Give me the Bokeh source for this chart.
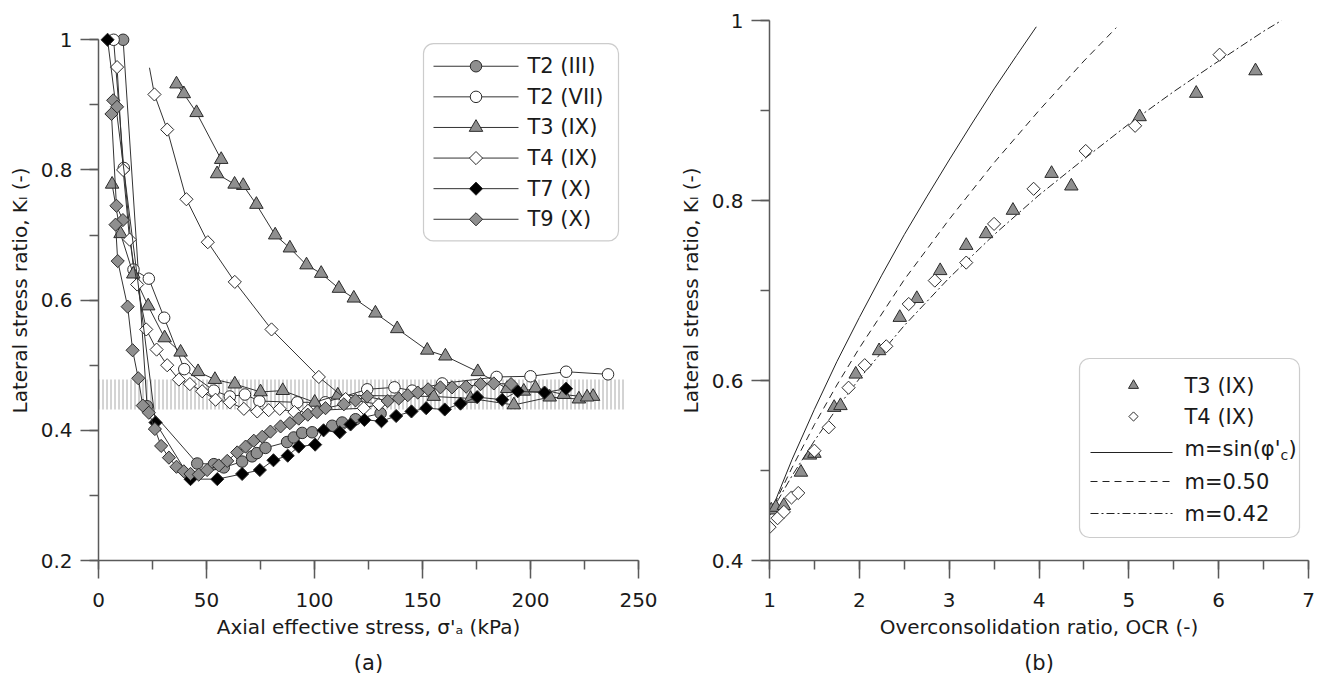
import numpy as np
from bokeh.plotting import figure
from bokeh.layouts import row
from bokeh.models import Range1d, SingleIntervalTicker, CustomJSTickFormatter, BoxAnnotation, Title
from bokeh.core.properties import value
from bokeh.embed import file_html
from bokeh.resources import INLINE

# ---------------- data: panel (a) ----------------
T2III_x = [11.4, 22.5, 45.7, 53.4, 58.0, 66.5, 71.1, 73.3, 77.3, 87.3, 90.4, 94.3, 98.9, 108.2, 112.8, 119.0, 130.6]
T2III_k = [1.000, 0.437, 0.349, 0.348, 0.343, 0.352, 0.360, 0.365, 0.373, 0.382, 0.389, 0.396, 0.397, 0.407, 0.412, 0.417, 0.426]

T2VII_x = [7.0, 11.7, 16.2, 23.3, 30.4, 39.7, 53.4, 60.8, 67.8, 74.5, 92.0, 105.0, 124.4, 137.0, 145.2, 159.1, 184.3, 200.0, 216.5, 235.9]
T2VII_k = [1.000, 0.803, 0.647, 0.633, 0.573, 0.494, 0.461, 0.452, 0.455, 0.445, 0.443, 0.443, 0.463, 0.466, 0.461, 0.472, 0.482, 0.483, 0.490, 0.486]

T3_x = [6.3, 10.2, 16.1, 23.0, 30.6, 38.0, 46.1, 53.9, 63.1, 75.0, 85.3, 100.1, 110.8, 155.2, 172.2, 192.3, 208.9, 222.4, 229.0,
        226.2, 215.4, 202.3, 196.9, 189.2, 175.6, 160.6, 152.2, 138.3, 128.2, 118.2, 111.3, 103.1, 96.3, 88.6, 81.8, 73.1, 67.0,
        63.0, 54.9, 56.8, 45.4, 39.5, 36.1]
T3_k = [0.778, 0.702, 0.640, 0.591, 0.542, 0.520, 0.490, 0.478, 0.471, 0.459, 0.461, 0.443, 0.454, 0.452, 0.449, 0.439, 0.451, 0.448, 0.452,
        0.451, 0.455, 0.465, 0.460, 0.464, 0.490, 0.514, 0.523, 0.556, 0.580, 0.603, 0.618, 0.641, 0.654, 0.680, 0.700, 0.747, 0.776,
        0.778, 0.794, 0.816, 0.888, 0.917, 0.932]

# last point of T4 is drawn as line end without a marker
T4_x = [8.6, 11.4, 14.4, 17.9, 22.1, 26.9, 31.8, 37.2, 42.3, 48.0, 54.2, 60.8, 67.3, 73.5, 78.8, 83.9, 90.7, 97.0, 122.8, 129.8,
        114.4, 102.0, 80.1, 63.1, 50.6, 40.7, 31.8, 25.9, 23.6]
T4_k = [0.958, 0.800, 0.693, 0.624, 0.555, 0.524, 0.500, 0.478, 0.471, 0.460, 0.447, 0.443, 0.433, 0.429, 0.431, 0.433, 0.428, 0.430, 0.434, 0.440,
        0.448, 0.482, 0.555, 0.628, 0.689, 0.755, 0.862, 0.916, 0.957]

T7_x = [4.2, 26.4, 42.6, 55.0, 66.5, 74.7, 81.0, 87.6, 92.7, 100.3, 104.2, 111.7, 116.7, 123.1, 131.0, 137.8, 144.9, 151.7, 160.3,
        167.6, 175.3, 186.9, 194.1, 206.5, 216.5]
T7_k = [1.000, 0.412, 0.325, 0.325, 0.333, 0.339, 0.354, 0.361, 0.375, 0.378, 0.400, 0.397, 0.409, 0.416, 0.414, 0.422, 0.429, 0.434, 0.432,
        0.441, 0.451, 0.447, 0.460, 0.458, 0.464]

T9_x = [6.8, 8.6, 6.0, 8.3, 11.3, 7.9, 8.9, 13.5, 15.8, 18.4, 20.5, 23.3, 26.1, 29.0, 32.6, 36.1, 39.5, 42.6, 46.4, 50.3, 55.7, 59.6,
        64.2, 68.1, 71.9, 75.8, 79.6, 84.3, 88.6, 92.7, 96.9, 101.2, 105.1, 113.6, 119.0, 124.4, 133.9, 139.0, 143.2, 147.8, 152.6,
        158.3, 163.7, 170.2, 176.9, 183.0, 191.0]
T9_k = [0.907, 0.897, 0.886, 0.745, 0.723, 0.716, 0.660, 0.590, 0.523, 0.480, 0.438, 0.427, 0.402, 0.376, 0.358, 0.344, 0.337, 0.333,
        0.332, 0.339, 0.346, 0.353, 0.366, 0.375, 0.384, 0.390, 0.398, 0.406, 0.411, 0.418, 0.424, 0.428, 0.434, 0.440, 0.446, 0.452,
        0.445, 0.449, 0.454, 0.458, 0.463, 0.466, 0.466, 0.467, 0.471, 0.472, 0.471]

band_x = [0.0, 243.5]
band_k = [0.432, 0.478]

# ---------------- data: panel (b) ----------------
T3_ocr = [1.02, 1.07, 1.16, 1.35, 1.45, 1.50, 1.72, 1.79, 1.96, 2.22, 2.45, 2.64, 2.90, 3.19, 3.41, 3.71, 4.14, 4.36, 5.12, 5.75, 6.41]
T3_kl = [0.456, 0.459, 0.461, 0.498, 0.517, 0.519, 0.570, 0.572, 0.607, 0.633, 0.670, 0.691, 0.722, 0.750, 0.763, 0.789, 0.830, 0.816, 0.893, 0.919, 0.944]
T4_ocr = [1.0, 1.09, 1.16, 1.245, 1.32, 1.50, 1.66, 1.88, 2.06, 2.30, 2.55, 2.84, 3.19, 3.50, 3.94, 4.52, 5.07, 6.01]
T4_kl = [0.437, 0.447, 0.454, 0.470, 0.475, 0.522, 0.548, 0.592, 0.617, 0.638, 0.685, 0.711, 0.731, 0.774, 0.813, 0.855, 0.883, 0.962]

msin_ocr = [1.0, 1.1, 1.25, 1.5, 1.75, 2.0, 2.25, 2.5, 2.75, 3.0, 3.25, 3.5, 3.75, 3.97]
msin_k = [0.450, 0.475, 0.512, 0.568, 0.621, 0.670, 0.717, 0.762, 0.804, 0.845, 0.885, 0.924, 0.961, 0.993]
m050_ocr = [1.0, 1.1, 1.25, 1.5, 1.75, 2.0, 2.5, 3.0, 3.5, 4.0, 4.5, 4.86]
m050_k = [0.450, 0.472, 0.503, 0.551, 0.595, 0.636, 0.712, 0.779, 0.842, 0.900, 0.955, 0.992]
m042_ocr = [1.0, 1.1, 1.25, 1.5, 1.75, 2.0, 2.5, 3.0, 3.5, 4.0, 4.5, 5.0, 5.5, 6.0, 6.5, 6.7]
m042_k = [0.450, 0.468, 0.494, 0.533, 0.569, 0.602, 0.661, 0.714, 0.762, 0.806, 0.846, 0.885, 0.921, 0.955, 0.988, 1.000]

FONT = "DejaVu Sans"
FS = "20px"
LFS = "21px"
TXT = "#1a1a1a"
GRAY = "#8f8f8f"
EDGE = "#2b2b2b"
LINE = "#333333"
AXC = "#5a5a5a"
D45 = np.pi / 4

fmt_code = "return (Math.round(tick*10)/10).toString();"


def style(p, xint, yint, xb, yb):
    p.xaxis.ticker = SingleIntervalTicker(interval=xint, num_minor_ticks=2)
    p.yaxis.ticker = SingleIntervalTicker(interval=yint, num_minor_ticks=2)
    p.xaxis.bounds = xb
    p.yaxis.bounds = yb
    for ax in (p.xaxis[0], p.yaxis[0]):
        ax.formatter = CustomJSTickFormatter(code=fmt_code)
        ax.axis_line_color = AXC
        ax.axis_line_width = 1.5
        ax.major_tick_line_color = AXC
        ax.major_tick_line_width = 1.5
        ax.minor_tick_line_color = AXC
        ax.minor_tick_line_width = 1.5
        ax.major_tick_in = 0
        ax.major_tick_out = 18
        ax.minor_tick_in = 0
        ax.minor_tick_out = 9
        ax.major_label_text_font = FONT
        ax.major_label_text_font_size = FS
        ax.major_label_text_color = TXT
        ax.axis_label_text_font = FONT
        ax.axis_label_text_font_size = FS
        ax.axis_label_text_font_style = "normal"
        ax.axis_label_text_color = TXT
    p.xaxis.major_label_standoff = 14
    p.yaxis.major_label_standoff = 8
    p.xaxis.axis_label_standoff = 5
    p.yaxis.axis_label_standoff = 6
    p.xgrid.visible = False
    p.ygrid.visible = False
    p.outline_line_color = None
    p.background_fill_color = "white"
    p.border_fill_color = "white"


# ================= panel (a) =================
p1 = figure(width=661, height=689, x_range=Range1d(0, 250), y_range=Range1d(0.2, 1.0296),
            output_backend="svg", toolbar_location=None,
            min_border_left=98, min_border_right=23, min_border_top=0, min_border_bottom=128)
style(p1, 50, 0.2, (0, 250), (0.2, 1.0001))
p1.xaxis.axis_label = "Axial effective stress, \u03c3'\u2090 (kPa)"
p1.yaxis.axis_label = "Lateral stress ratio, K\u2097 (-)"
p1.add_layout(Title(text="(a)", align="center", text_font=FONT, text_font_size=LFS,
                    text_font_style="normal", text_color=TXT, standoff=14), "below")

p1.quad(left=[band_x[0]], right=[band_x[1]], bottom=[band_k[0]], top=[band_k[1]],
        fill_alpha=0, line_alpha=0, hatch_pattern="vertical_line", hatch_scale=4,
        hatch_weight=1, hatch_color="#a8a8a8")

series = [
    ("T2 (III)", T2III_x, T2III_k, dict(marker="circle", fill_color=GRAY, size=11.5, angle=0)),
    ("T2 (VII)", T2VII_x, T2VII_k, dict(marker="circle", fill_color="white", size=11.5, angle=0)),
    ("T3 (IX)", T3_x, T3_k, dict(marker="triangle", fill_color=GRAY, size=13.5, angle=0)),
    ("T4 (IX)", T4_x, T4_k, dict(marker="square", fill_color="white", size=9.3, angle=D45)),
    ("T7 (X)", T7_x, T7_k, dict(marker="square", fill_color="black", size=9.3, angle=D45)),
    ("T9 (X)", T9_x, T9_k, dict(marker="square", fill_color=GRAY, size=9.3, angle=D45)),
]

for name, xs, ks, st in series:
    p1.line(xs, ks, line_color=LINE, line_width=1)
    mx, mk = (xs[:-1], ks[:-1]) if name == "T4 (IX)" else (xs, ks)
    p1.scatter(mx, mk, marker=st["marker"], size=st["size"], angle=st["angle"],
               fill_color=st["fill_color"], line_color=EDGE, line_width=1)


def sx1(px):
    return (px - 98) / 2.16


def sy1(py):
    return 1.0 - (py - 20) / 676.25


p1.add_layout(BoxAnnotation(left=sx1(423), right=sx1(618), top=sy1(24), bottom=sy1(229),
                            fill_color="white", fill_alpha=1, line_color="#555555", line_width=1.2,
                            border_radius=10, level="underlay"))
for i, (name, xs, ks, st) in enumerate(series):
    py = 47.5 + 31.8 * i
    p1.line([sx1(433), sx1(518)], [sy1(py), sy1(py)], line_color=LINE, line_width=1)
    p1.scatter([sx1(475.5)], [sy1(py)], marker=st["marker"], size=st["size"], angle=st["angle"],
               fill_color=st["fill_color"], line_color=EDGE, line_width=1)
    p1.text([sx1(527)], [sy1(py)], text=[name], text_font=value(FONT), text_font_size=LFS,
            text_baseline="middle", text_align="left", text_color=TXT)

# ================= panel (b) =================
p2 = figure(width=662, height=689, x_range=Range1d(1.0, 7.0), y_range=Range1d(0.4, 1.0),
            output_backend="svg", toolbar_location=None,
            min_border_left=108, min_border_right=15, min_border_top=20, min_border_bottom=129)
style(p2, 1, 0.2, (1, 7), (0.4, 1.0001))
p2.xaxis.axis_label = "Overconsolidation ratio, OCR (-)"
p2.yaxis.axis_label = "Lateral stress ratio, K\u2097 (-)"
p2.add_layout(Title(text="(b)", align="center", text_font=FONT, text_font_size=LFS,
                    text_font_style="normal", text_color=TXT, standoff=14), "below")

p2.line(msin_ocr, msin_k, line_color="#222222", line_width=1)
p2.line(m050_ocr, m050_k, line_color="#222222", line_width=1, line_dash="7 5")
p2.line(m042_ocr, m042_k, line_color="#222222", line_width=1, line_dash="8 3 2 3")
p2.scatter(T3_ocr, T3_kl, marker="triangle", size=13.5, fill_color=GRAY, line_color=EDGE, line_width=1)
p2.scatter(T4_ocr, T4_kl, marker="square", angle=D45, size=9.3, fill_color="white", line_color=EDGE, line_width=1)


def sx2(px):
    return 1.0 + (px - 769) / 89.83


def sy2(py):
    return 1.0 - (py - 20) / 900.0


p2.add_layout(BoxAnnotation(left=sx2(1079), right=sx2(1299), top=sy2(358), bottom=sy2(537),
                            fill_color="white", fill_alpha=1, line_color="#555555", line_width=1.2,
                            border_radius=10, level="underlay"))
rows = [385, 416, 448, 481, 513]
lx0, lx1, mxp, tx = sx2(1090), sx2(1172), sx2(1133), sx2(1184)
p2.scatter([mxp], [sy2(rows[0])], marker="triangle", size=10, fill_color=GRAY, line_color=EDGE, line_width=1)
p2.scatter([mxp], [sy2(rows[1])], marker="square", angle=D45, size=6.5, fill_color="white", line_color=EDGE, line_width=1)
p2.line([lx0, lx1], [sy2(rows[2] + 4)] * 2, line_color="#222222", line_width=1)
p2.line([lx0, lx1], [sy2(rows[3])] * 2, line_color="#222222", line_width=1, line_dash="7 5")
p2.line([lx0, lx1], [sy2(rows[4])] * 2, line_color="#222222", line_width=1, line_dash="8 3 2 3")

tkw = dict(text_font=value(FONT), text_font_size=LFS, text_baseline="middle", text_align="left", text_color=TXT)
p2.text([tx], [sy2(rows[0])], text=["T3 (IX)"], **tkw)
p2.text([tx], [sy2(rows[1])], text=["T4 (IX)"], **tkw)
p2.text([tx], [sy2(rows[2])], text=["m=sin(\u03c6'"], **tkw)
p2.text([tx], [sy2(rows[2])], text=["c"], x_offset=96, y_offset=6, text_font=value(FONT),
        text_font_size="14px", text_baseline="middle", text_align="left", text_color=TXT)
p2.text([tx], [sy2(rows[2])], text=[")"], x_offset=104, **tkw)
p2.text([tx], [sy2(rows[3])], text=["m=0.50"], **tkw)
p2.text([tx], [sy2(rows[4])], text=["m=0.42"], **tkw)

layout = row(p1, p2, spacing=0)
open("out.html", "w").write(file_html(layout, INLINE))
